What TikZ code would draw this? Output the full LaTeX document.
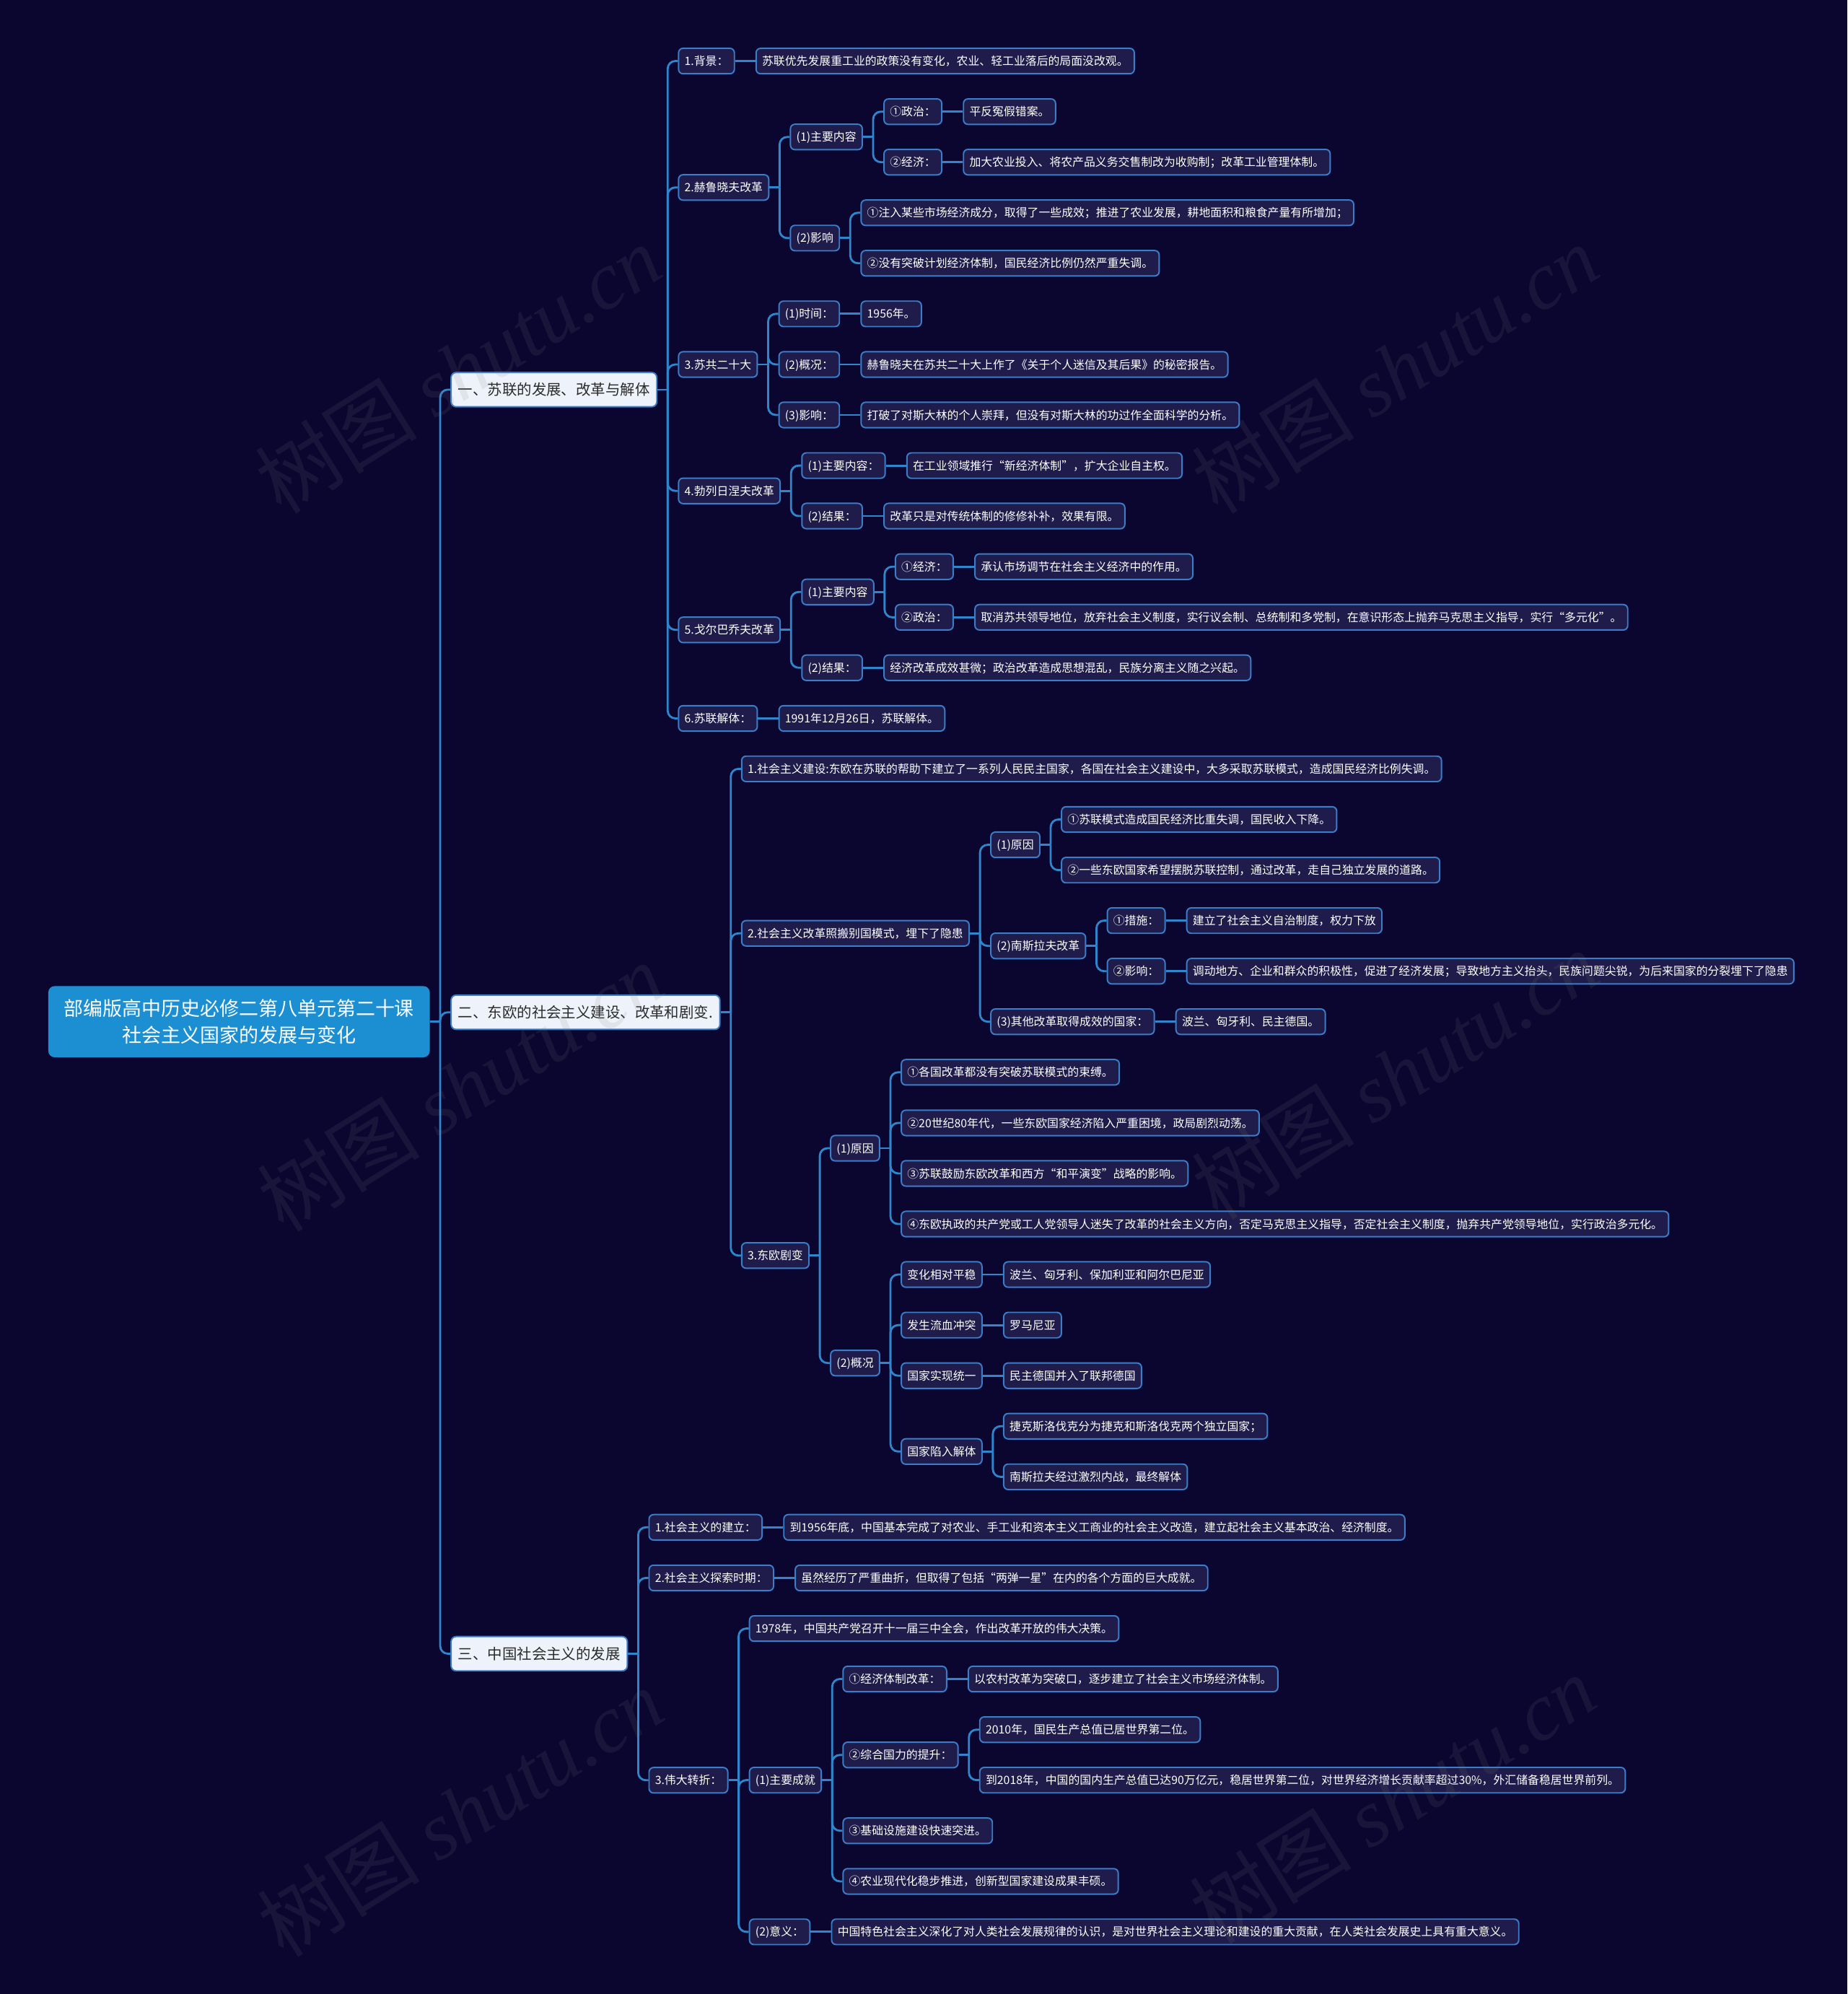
\documentclass[tikz,border=0pt]{standalone}
\usepackage{fontspec}
\setmainfont{Noto Sans CJK SC}
\newfontfamily\wmfont{Liberation Serif}
\usetikzlibrary{calc}
\definecolor{bgc}{HTML}{0A0630}
\definecolor{boxc}{HTML}{1F1B4A}
\definecolor{bordc}{HTML}{3A7DC9}
\definecolor{connc}{HTML}{2E86CC}
\definecolor{lvlc}{HTML}{EEF3FB}
\definecolor{lvltext}{HTML}{2B2B2B}
\definecolor{rootc}{HTML}{1C8FD3}
\tikzset{
  box/.style={draw=bordc, fill=boxc, line width=1.1pt, rounded corners=3.5pt, text=white,
    font=\fontsize{9.0}{11}\selectfont, inner xsep=4.7pt, inner ysep=0pt,
    minimum height=20pt, text height=8pt, text depth=1.1pt},
  lvl/.style={draw=bordc, fill=lvlc, line width=1.1pt, rounded corners=4pt, text=lvltext,
    font=\fontsize{11.6}{14}\selectfont, inner xsep=5.5pt, inner ysep=0pt,
    minimum height=27pt, text height=10.2pt, text depth=1.4pt},
  rootn/.style={fill=rootc, rounded corners=5pt, text=white,
    font=\fontsize{15.3}{21}\selectfont, align=center, minimum width=300pt, minimum height=56pt},
  conn/.style={draw=connc, line width=1.6pt, rounded corners=6pt},
  wm/.style={text=gray, opacity=0.13, rotate=32, font=\fontsize{64}{70}\selectfont}
}
\newcommand\nd[5]{\node[#1,anchor=west] (#2) at ([xshift=16pt]#3.east |- 0,#4) {#5};}
\newcommand\fan[2]{\draw[conn] (#1.east) -- ++(8,0) coordinate (#1T);
  \foreach \k in {#2} {\draw[conn] (#1T) |- (\k.west);}}
\newcommand\lnk[2]{\draw[conn] (#1.east) -- (#2.west);}
\begin{document}
\begin{tikzpicture}[x=1pt,y=-1pt]
\fill[bgc] (0,0) rectangle (1453,1568);
\useasboundingbox (0,0) rectangle (1453,1568);

\node[rootn] (R) at (188,803.4) {部编版高中历史必修二第八单元第二十课\\社会主义国家的发展与变化};

\nd{lvl}{A}{R}{306.4}{一、苏联的发展、改革与解体}
\nd{lvl}{B}{R}{796.0}{二、东欧的社会主义建设、改革和剧变.}
\nd{lvl}{C}{R}{1300.4}{三、中国社会主义的发展}

% ---- A
\nd{box}{a1}{A}{48.0}{1.背景：}
\nd{box}{a1x}{a1}{48.0}{苏联优先发展重工业的政策没有变化，农业、轻工业落后的局面没改观。}
\nd{box}{a2}{A}{147.4}{2.赫鲁晓夫改革}
\nd{box}{a21}{a2}{107.7}{(1)主要内容}
\nd{box}{a211}{a21}{87.8}{①政治：}
\nd{box}{a211x}{a211}{87.8}{平反冤假错案。}
\nd{box}{a212}{a21}{127.5}{②经济：}
\nd{box}{a212x}{a212}{127.5}{加大农业投入、将农产品义务交售制改为收购制；改革工业管理体制。}
\nd{box}{a22}{a2}{187.2}{(2)影响}
\nd{box}{a221}{a22}{167.3}{①注入某些市场经济成分，取得了一些成效；推进了农业发展，耕地面积和粮食产量有所增加；}
\nd{box}{a222}{a22}{207.0}{②没有突破计划经济体制，国民经济比例仍然严重失调。}
\nd{box}{a3}{A}{286.6}{3.苏共二十大}
\nd{box}{a31}{a3}{246.8}{(1)时间：}
\nd{box}{a31x}{a31}{246.8}{1956年。}
\nd{box}{a32}{a3}{286.6}{(2)概况：}
\nd{box}{a32x}{a32}{286.6}{赫鲁晓夫在苏共二十大上作了《关于个人迷信及其后果》的秘密报告。}
\nd{box}{a33}{a3}{326.3}{(3)影响：}
\nd{box}{a33x}{a33}{326.3}{打破了对斯大林的个人崇拜，但没有对斯大林的功过作全面科学的分析。}
\nd{box}{a4}{A}{386.0}{4.勃列日涅夫改革}
\nd{box}{a41}{a4}{366.1}{(1)主要内容：}
\nd{box}{a41x}{a41}{366.1}{在工业领域推行“新经济体制”，扩大企业自主权。}
\nd{box}{a42}{a4}{405.8}{(2)结果：}
\nd{box}{a42x}{a42}{405.8}{改革只是对传统体制的修修补补，效果有限。}
\nd{box}{a5}{A}{495.3}{5.戈尔巴乔夫改革}
\nd{box}{a51}{a5}{465.5}{(1)主要内容}
\nd{box}{a511}{a51}{445.6}{①经济：}
\nd{box}{a511x}{a511}{445.6}{承认市场调节在社会主义经济中的作用。}
\nd{box}{a512}{a51}{485.4}{②政治：}
\nd{box}{a512x}{a512}{485.4}{取消苏共领导地位，放弃社会主义制度，实行议会制、总统制和多党制，在意识形态上抛弃马克思主义指导，实行“多元化”。}
\nd{box}{a52}{a5}{525.1}{(2)结果：}
\nd{box}{a52x}{a52}{525.1}{经济改革成效甚微；政治改革造成思想混乱，民族分离主义随之兴起。}
\nd{box}{a6}{A}{564.9}{6.苏联解体：}
\nd{box}{a6x}{a6}{564.9}{1991年12月26日，苏联解体。}

% ---- B
\nd{box}{b1}{B}{604.6}{1.社会主义建设:东欧在苏联的帮助下建立了一系列人民民主国家，各国在社会主义建设中，大多采取苏联模式，造成国民经济比例失调。}
\nd{box}{b2}{B}{733.9}{2.社会主义改革照搬别国模式，埋下了隐患}
\nd{box}{b21}{b2}{664.3}{(1)原因}
\nd{box}{b211}{b21}{644.4}{①苏联模式造成国民经济比重失调，国民收入下降。}
\nd{box}{b212}{b21}{684.2}{②一些东欧国家希望摆脱苏联控制，通过改革，走自己独立发展的道路。}
\nd{box}{b22}{b2}{743.8}{(2)南斯拉夫改革}
\nd{box}{b221}{b22}{723.9}{①措施：}
\nd{box}{b221x}{b221}{723.9}{建立了社会主义自治制度，权力下放}
\nd{box}{b222}{b22}{763.7}{②影响：}
\nd{box}{b222x}{b222}{763.7}{调动地方、企业和群众的积极性，促进了经济发展；导致地方主义抬头，民族问题尖锐，为后来国家的分裂埋下了隐患}
\nd{box}{b23}{b2}{803.4}{(3)其他改革取得成效的国家：}
\nd{box}{b23x}{b23}{803.4}{波兰、匈牙利、民主德国。}
\nd{box}{b3}{B}{987.3}{3.东欧剧变}
\nd{box}{b31}{b3}{902.9}{(1)原因}
\nd{box}{b311}{b31}{843.2}{①各国改革都没有突破苏联模式的束缚。}
\nd{box}{b312}{b31}{883.0}{②20世纪80年代，一些东欧国家经济陷入严重困境，政局剧烈动荡。}
\nd{box}{b313}{b31}{922.7}{③苏联鼓励东欧改革和西方“和平演变”战略的影响。}
\nd{box}{b314}{b31}{962.5}{④东欧执政的共产党或工人党领导人迷失了改革的社会主义方向，否定马克思主义指导，否定社会主义制度，抛弃共产党领导地位，实行政治多元化。}
\nd{box}{b32}{b3}{1071.8}{(2)概况}
\nd{box}{b321}{b32}{1002.2}{变化相对平稳}
\nd{box}{b321x}{b321}{1002.2}{波兰、匈牙利、保加利亚和阿尔巴尼亚}
\nd{box}{b322}{b32}{1042.0}{发生流血冲突}
\nd{box}{b322x}{b322}{1042.0}{罗马尼亚}
\nd{box}{b323}{b32}{1081.8}{国家实现统一}
\nd{box}{b323x}{b323}{1081.8}{民主德国并入了联邦德国}
\nd{box}{b324}{b32}{1141.4}{国家陷入解体}
\nd{box}{b3241}{b324}{1121.5}{捷克斯洛伐克分为捷克和斯洛伐克两个独立国家；}
\nd{box}{b3242}{b324}{1161.3}{南斯拉夫经过激烈内战，最终解体}

% ---- C
\nd{box}{c1}{C}{1201.0}{1.社会主义的建立：}
\nd{box}{c1x}{c1}{1201.0}{到1956年底，中国基本完成了对农业、手工业和资本主义工商业的社会主义改造，建立起社会主义基本政治、经济制度。}
\nd{box}{c2}{C}{1240.8}{2.社会主义探索时期：}
\nd{box}{c2x}{c2}{1240.8}{虽然经历了严重曲折，但取得了包括“两弹一星”在内的各个方面的巨大成就。}
\nd{box}{c3}{C}{1399.9}{3.伟大转折：}
\nd{box}{c31}{c3}{1280.6}{1978年，中国共产党召开十一届三中全会，作出改革开放的伟大决策。}
\nd{box}{c32}{c3}{1399.8}{(1)主要成就}
\nd{box}{c321}{c32}{1320.3}{①经济体制改革：}
\nd{box}{c321x}{c321}{1320.3}{以农村改革为突破口，逐步建立了社会主义市场经济体制。}
\nd{box}{c322}{c32}{1380.0}{②综合国力的提升：}
\nd{box}{c3221}{c322}{1360.1}{2010年，国民生产总值已居世界第二位。}
\nd{box}{c3222}{c322}{1399.8}{到2018年，中国的国内生产总值已达90万亿元，稳居世界第二位，对世界经济增长贡献率超过30\%，外汇储备稳居世界前列。}
\nd{box}{c323}{c32}{1439.6}{③基础设施建设快速突进。}
\nd{box}{c324}{c32}{1479.4}{④农业现代化稳步推进，创新型国家建设成果丰硕。}
\nd{box}{c33}{c3}{1519.1}{(2)意义：}
\nd{box}{c33x}{c33}{1519.1}{中国特色社会主义深化了对人类社会发展规律的认识，是对世界社会主义理论和建设的重大贡献，在人类社会发展史上具有重大意义。}

% ---- connectors
\fan{R}{A,B,C}
\fan{A}{a1,a2,a3,a4,a5,a6}
\lnk{a1}{a1x}
\fan{a2}{a21,a22}
\fan{a21}{a211,a212}
\lnk{a211}{a211x}
\lnk{a212}{a212x}
\fan{a22}{a221,a222}
\fan{a3}{a31,a32,a33}
\lnk{a31}{a31x}
\lnk{a32}{a32x}
\lnk{a33}{a33x}
\fan{a4}{a41,a42}
\lnk{a41}{a41x}
\lnk{a42}{a42x}
\fan{a5}{a51,a52}
\fan{a51}{a511,a512}
\lnk{a511}{a511x}
\lnk{a512}{a512x}
\lnk{a52}{a52x}
\lnk{a6}{a6x}

\fan{B}{b1,b2,b3}
\fan{b2}{b21,b22,b23}
\fan{b21}{b211,b212}
\fan{b22}{b221,b222}
\lnk{b221}{b221x}
\lnk{b222}{b222x}
\lnk{b23}{b23x}
\fan{b3}{b31,b32}
\fan{b31}{b311,b312,b313,b314}
\fan{b32}{b321,b322,b323,b324}
\lnk{b321}{b321x}
\lnk{b322}{b322x}
\lnk{b323}{b323x}
\fan{b324}{b3241,b3242}

\fan{C}{c1,c2,c3}
\lnk{c1}{c1x}
\lnk{c2}{c2x}
\fan{c3}{c31,c32,c33}
\fan{c32}{c321,c322,c323,c324}
\lnk{c321}{c321x}
\fan{c322}{c3221,c3222}
\lnk{c33}{c33x}

% ---- watermarks
\foreach \wx/\wy [count=\i] in {360/290,1097/290,362/855,1097/845,362/1425,1095/1415}
  \node[wm] (wm\i) at (\wx,\wy) {树图 {\wmfont\itshape shutu.cn}};
\end{tikzpicture}
\end{document}
